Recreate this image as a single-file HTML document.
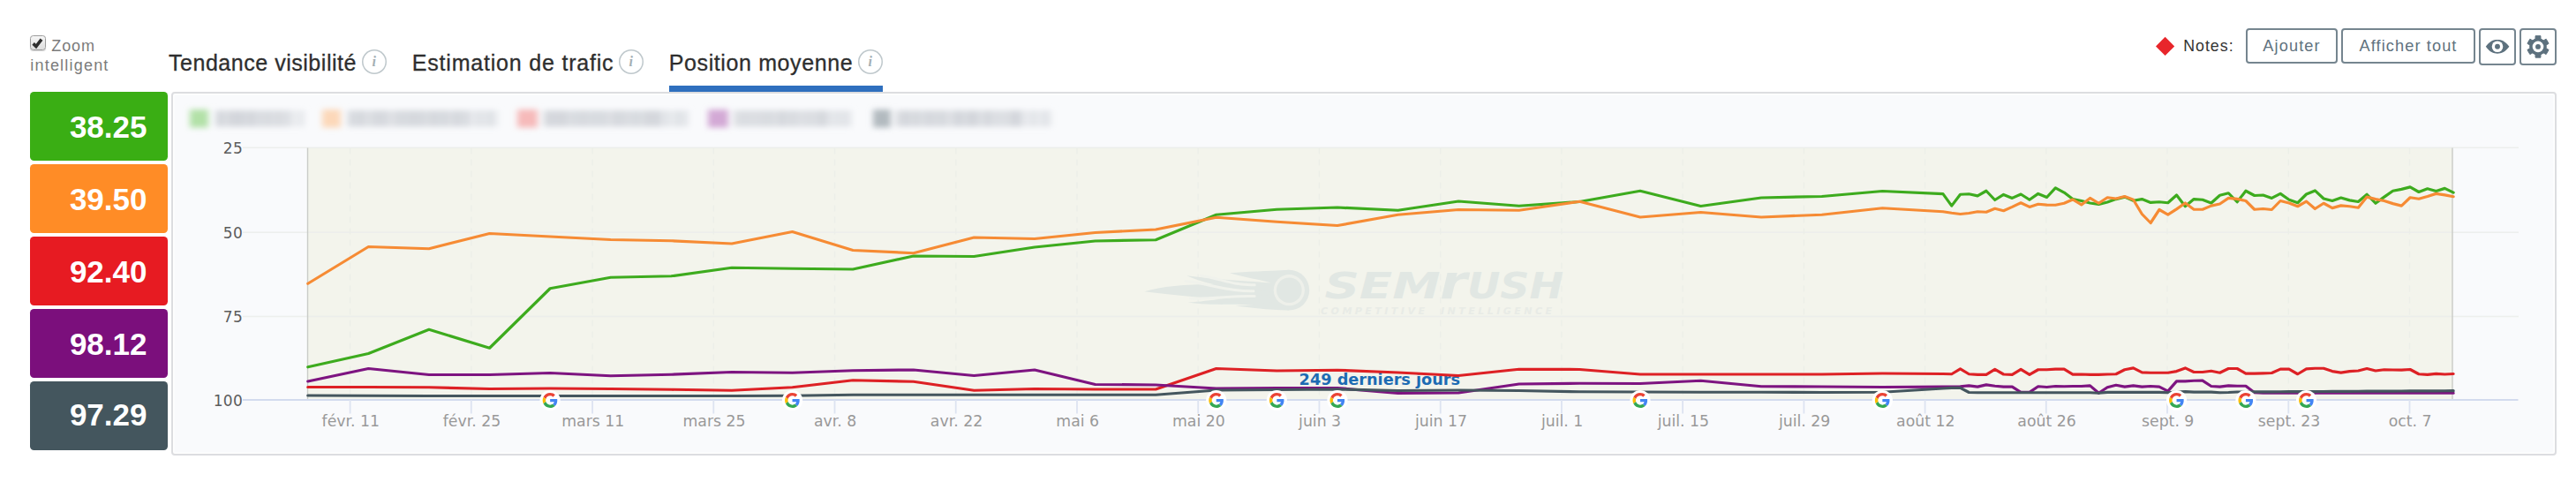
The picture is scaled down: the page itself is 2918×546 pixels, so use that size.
<!DOCTYPE html>
<html lang="fr"><head><meta charset="utf-8"><title>Position moyenne</title>
<style>
html,body{margin:0;padding:0;background:#fff;}
body{width:2918px;height:546px;position:relative;overflow:hidden;font-family:"Liberation Sans",sans-serif;color:#333;}
.abs{position:absolute;}
.zoom{left:34.3px;top:40.6px;width:150px;font-size:18px;line-height:22.4px;color:#7b7b7b;letter-spacing:1.2px;}
.cb{position:absolute;left:34px;top:40px;width:15.5px;height:15px;border:1px solid #9c9c9c;border-radius:3.5px;background:linear-gradient(#f6f6f6,#dedede);box-shadow:0 1px 1px rgba(0,0,0,.18);}
.tab{position:absolute;top:54.6px;-webkit-text-stroke:0.3px #2e2e2e;height:32px;line-height:32.6px;font-size:25px;color:#2e2e2e;white-space:nowrap;}
.info{position:absolute;top:56px;width:28px;height:28px;box-shadow:inset 0 0 0 1.5px #bfc8cc;border-radius:50%;background:#fff;text-align:center;font-family:"Liberation Serif",serif;font-style:italic;font-weight:bold;font-size:16px;line-height:28.5px;color:#a4afb4;}
.uline{position:absolute;left:758px;top:96.5px;width:242px;height:7px;background:#2f6fbe;}
.box{position:absolute;left:34px;width:156px;height:77.5px;border-radius:4.5px;color:#fff;font-weight:bold;font-size:35px;line-height:79.6px;text-align:right;padding-right:23.5px;box-sizing:border-box;}
.panel{position:absolute;left:194px;top:104px;width:2702px;height:412px;box-sizing:border-box;border:2px solid #dcdde0;border-radius:4px;background:#f9fafc;box-shadow:inset 0 0 0 1.5px rgba(255,255,255,.75);}
.btn{position:absolute;top:32px;height:39.5px;box-sizing:border-box;border:2px solid #75858f;border-radius:4px;background:#fff;color:#5f727e;font-size:18.2px;letter-spacing:1.1px;line-height:37.6px;text-align:center;white-space:nowrap;}
.ibtn{height:41.5px;}
.notes{position:absolute;left:2473.2px;top:36.7px;font-size:17.8px;letter-spacing:1px;line-height:30px;color:#333;}
.diamond{position:absolute;left:2445.4px;top:45.4px;width:15.2px;height:15.2px;background:#e8262b;transform:rotate(45deg);}
svg text{white-space:pre;}
</style></head><body>

<div class="cb"><svg width="15" height="15" viewBox="0 0 15 15" style="position:absolute;left:0;top:0"><path d="M2.6 8.4 L5.9 11.5 L12 3.7" fill="none" stroke="#2e2e2e" stroke-width="3.6" stroke-linecap="butt" stroke-linejoin="miter"/></svg></div>
<div class="abs zoom"><span style="padding-left:24px;letter-spacing:0.9px">Zoom</span><br>intelligent</div>
<div class="tab" style="left:191px;letter-spacing:0.53px">Tendance visibilité</div><div class="info" style="left:409.8px">i</div>
<div class="tab" style="left:466.8px;letter-spacing:0.8px">Estimation de trafic</div><div class="info" style="left:700.8px">i</div>
<div class="tab" style="left:757.7px;letter-spacing:0.62px">Position moyenne</div><div class="info" style="left:971.8px">i</div>
<div class="uline"></div>
<div class="diamond"></div><div class="notes">Notes:</div>
<div class="btn" style="left:2544px;width:104px">Ajouter</div>
<div class="btn" style="left:2652px;width:152px">Afficher tout</div>
<div class="btn ibtn" style="left:2808px;width:42px"><svg width="38" height="37.5" viewBox="0 0 38 37.5" style="position:absolute;left:0;top:0">
<path d="M5.8 18.8 C10 12.6 14.5 10.9 19 10.9 C23.5 10.9 28 12.6 32.4 18.8 C28 25 23.5 26.7 19 26.7 C14.5 26.7 10 25 5.8 18.8 Z" fill="#5d717e"/>
<circle cx="19" cy="18.8" r="6.3" fill="#fff"/><circle cx="19" cy="18.8" r="2.95" fill="#5d717e"/></svg></div>
<div class="btn ibtn" style="left:2854px;width:42px"><svg width="38" height="37.5" viewBox="0 0 38 37.5" style="position:absolute;left:0;top:0">
<path d="M16.02 10.20 L16.07 6.65 L21.93 6.65 L21.98 10.20 L25.05 11.97 L28.15 10.23 L31.08 15.31 L28.03 17.13 L28.03 20.67 L31.08 22.49 L28.15 27.57 L25.05 25.83 L21.98 27.60 L21.93 31.15 L16.07 31.15 L16.02 27.60 L12.95 25.83 L9.85 27.57 L6.92 22.49 L9.97 20.67 L9.97 17.13 L6.92 15.31 L9.85 10.23 L12.95 11.97Z" fill="#5d717e" stroke="#5d717e" stroke-width="1" stroke-linejoin="round"/><circle cx="19" cy="18.9" r="9.6" fill="#5d717e"/>
<circle cx="19" cy="18.9" r="6.3" fill="#fff"/><circle cx="19" cy="18.9" r="2.95" fill="#5d717e"/></svg></div>
<div class="box" style="top:104px;background:#3aae14">38.25</div>
<div class="box" style="top:186px;background:#ff8c26">39.50</div>
<div class="box" style="top:268px;background:#e71b22">92.40</div>
<div class="box" style="top:350px;background:#7b0f7c">98.12</div>
<div class="box" style="top:432px;background:#44565e;line-height:75.4px">97.29</div>
<div class="panel"></div>
<svg class="abs" style="left:0;top:0" width="2918" height="546" viewBox="0 0 2918 546">
<defs><filter id="bl" x="-10%" y="-50%" width="120%" height="200%"><feGaussianBlur stdDeviation="3.6 3"/></filter></defs>
<g filter="url(#bl)">
<rect x="215" y="124" width="21" height="20.5" fill="#b2e1a7"/>
<rect x="244" y="125" width="4" height="18.5" fill="#d8dbe0"/>
<rect x="248" y="125" width="5" height="18.5" fill="#d3d6db"/>
<rect x="253" y="125" width="2" height="18.5" fill="#dbdee2"/>
<rect x="255" y="125" width="2" height="18.5" fill="#dee0e4"/>
<rect x="257" y="125" width="2" height="18.5" fill="#dbdee2"/>
<rect x="259" y="125" width="3" height="18.5" fill="#d3d6db"/>
<rect x="262" y="125" width="2" height="18.5" fill="#d5d8dd"/>
<rect x="264" y="125" width="5" height="18.5" fill="#d3d6db"/>
<rect x="269" y="125" width="3" height="18.5" fill="#d3d6db"/>
<rect x="272" y="125" width="5" height="18.5" fill="#d3d6db"/>
<rect x="277" y="125" width="2" height="18.5" fill="#d8dbe0"/>
<rect x="279" y="125" width="2" height="18.5" fill="#dbdee2"/>
<rect x="281" y="125" width="5" height="18.5" fill="#d3d6db"/>
<rect x="286" y="125" width="3" height="18.5" fill="#d3d6db"/>
<rect x="289" y="125" width="3" height="18.5" fill="#dee0e4"/>
<rect x="292" y="125" width="5" height="18.5" fill="#d8dbe0"/>
<rect x="297" y="125" width="2" height="18.5" fill="#dbdee2"/>
<rect x="299" y="125" width="4" height="18.5" fill="#dbdee2"/>
<rect x="303" y="125" width="3" height="18.5" fill="#d3d6db"/>
<rect x="306" y="125" width="3" height="18.5" fill="#dee0e4"/>
<rect x="309" y="125" width="2" height="18.5" fill="#dbdee2"/>
<rect x="311" y="125" width="2" height="18.5" fill="#dbdee2"/>
<rect x="313" y="125" width="2" height="18.5" fill="#dbdee2"/>
<rect x="315" y="125" width="3" height="18.5" fill="#d5d8dd"/>
<rect x="318" y="125" width="5" height="18.5" fill="#dee0e4"/>
<rect x="323" y="125" width="5" height="18.5" fill="#dbdee2"/>
<rect x="328" y="125" width="5" height="18.5" fill="#e6e8ec"/>
<rect x="333" y="125" width="3" height="18.5" fill="#eceef1"/>
<rect x="336" y="125" width="3" height="18.5" fill="#eceef1"/>
<rect x="339" y="125" width="4" height="18.5" fill="#e6e8ec"/>
<rect x="343" y="125" width="2" height="18.5" fill="#e6e8ec"/>
<rect x="365" y="124" width="21" height="20.5" fill="#fcd8b9"/>
<rect x="394" y="125" width="2" height="18.5" fill="#d3d6db"/>
<rect x="396" y="125" width="5" height="18.5" fill="#d8dbe0"/>
<rect x="401" y="125" width="4" height="18.5" fill="#d8dbe0"/>
<rect x="405" y="125" width="5" height="18.5" fill="#d5d8dd"/>
<rect x="410" y="125" width="2" height="18.5" fill="#d3d6db"/>
<rect x="412" y="125" width="4" height="18.5" fill="#dee0e4"/>
<rect x="416" y="125" width="4" height="18.5" fill="#dbdee2"/>
<rect x="420" y="125" width="5" height="18.5" fill="#dbdee2"/>
<rect x="425" y="125" width="5" height="18.5" fill="#d3d6db"/>
<rect x="430" y="125" width="2" height="18.5" fill="#dee0e4"/>
<rect x="432" y="125" width="5" height="18.5" fill="#d3d6db"/>
<rect x="437" y="125" width="2" height="18.5" fill="#dee0e4"/>
<rect x="439" y="125" width="5" height="18.5" fill="#dee0e4"/>
<rect x="444" y="125" width="5" height="18.5" fill="#dee0e4"/>
<rect x="449" y="125" width="2" height="18.5" fill="#d5d8dd"/>
<rect x="451" y="125" width="4" height="18.5" fill="#d8dbe0"/>
<rect x="455" y="125" width="2" height="18.5" fill="#d5d8dd"/>
<rect x="457" y="125" width="2" height="18.5" fill="#d8dbe0"/>
<rect x="459" y="125" width="4" height="18.5" fill="#d8dbe0"/>
<rect x="463" y="125" width="3" height="18.5" fill="#d5d8dd"/>
<rect x="466" y="125" width="5" height="18.5" fill="#d5d8dd"/>
<rect x="471" y="125" width="2" height="18.5" fill="#d8dbe0"/>
<rect x="473" y="125" width="5" height="18.5" fill="#d5d8dd"/>
<rect x="478" y="125" width="4" height="18.5" fill="#d8dbe0"/>
<rect x="482" y="125" width="5" height="18.5" fill="#dbdee2"/>
<rect x="487" y="125" width="4" height="18.5" fill="#d5d8dd"/>
<rect x="491" y="125" width="4" height="18.5" fill="#d5d8dd"/>
<rect x="495" y="125" width="3" height="18.5" fill="#d8dbe0"/>
<rect x="498" y="125" width="2" height="18.5" fill="#d8dbe0"/>
<rect x="500" y="125" width="3" height="18.5" fill="#d8dbe0"/>
<rect x="503" y="125" width="3" height="18.5" fill="#d3d6db"/>
<rect x="506" y="125" width="5" height="18.5" fill="#dbdee2"/>
<rect x="511" y="125" width="3" height="18.5" fill="#dee0e4"/>
<rect x="514" y="125" width="4" height="18.5" fill="#d3d6db"/>
<rect x="518" y="125" width="3" height="18.5" fill="#d5d8dd"/>
<rect x="521" y="125" width="4" height="18.5" fill="#dbdee2"/>
<rect x="525" y="125" width="4" height="18.5" fill="#d8dbe0"/>
<rect x="529" y="125" width="2" height="18.5" fill="#d5d8dd"/>
<rect x="531" y="125" width="5" height="18.5" fill="#e6e8ec"/>
<rect x="536" y="125" width="5" height="18.5" fill="#e6e8ec"/>
<rect x="541" y="125" width="5" height="18.5" fill="#dfe2e6"/>
<rect x="546" y="125" width="2" height="18.5" fill="#e6e8ec"/>
<rect x="548" y="125" width="3" height="18.5" fill="#e6e8ec"/>
<rect x="551" y="125" width="2" height="18.5" fill="#dfe2e6"/>
<rect x="553" y="125" width="3" height="18.5" fill="#dfe2e6"/>
<rect x="556" y="125" width="4" height="18.5" fill="#dfe2e6"/>
<rect x="560" y="125" width="2" height="18.5" fill="#eceef1"/>
<rect x="562" y="125" width="3" height="18.5" fill="#eceef1"/>
<rect x="586" y="124" width="23" height="20.5" fill="#f6baba"/>
<rect x="615" y="125" width="4" height="18.5" fill="#dee0e4"/>
<rect x="619" y="125" width="4" height="18.5" fill="#d5d8dd"/>
<rect x="623" y="125" width="2" height="18.5" fill="#d3d6db"/>
<rect x="625" y="125" width="5" height="18.5" fill="#d5d8dd"/>
<rect x="630" y="125" width="5" height="18.5" fill="#d5d8dd"/>
<rect x="635" y="125" width="4" height="18.5" fill="#d3d6db"/>
<rect x="639" y="125" width="3" height="18.5" fill="#d3d6db"/>
<rect x="642" y="125" width="4" height="18.5" fill="#dee0e4"/>
<rect x="646" y="125" width="5" height="18.5" fill="#d8dbe0"/>
<rect x="651" y="125" width="2" height="18.5" fill="#d8dbe0"/>
<rect x="653" y="125" width="4" height="18.5" fill="#d8dbe0"/>
<rect x="657" y="125" width="2" height="18.5" fill="#dbdee2"/>
<rect x="659" y="125" width="4" height="18.5" fill="#d3d6db"/>
<rect x="663" y="125" width="4" height="18.5" fill="#dbdee2"/>
<rect x="667" y="125" width="4" height="18.5" fill="#d8dbe0"/>
<rect x="671" y="125" width="4" height="18.5" fill="#d8dbe0"/>
<rect x="675" y="125" width="4" height="18.5" fill="#d8dbe0"/>
<rect x="679" y="125" width="3" height="18.5" fill="#d8dbe0"/>
<rect x="682" y="125" width="5" height="18.5" fill="#d8dbe0"/>
<rect x="687" y="125" width="3" height="18.5" fill="#dbdee2"/>
<rect x="690" y="125" width="5" height="18.5" fill="#dee0e4"/>
<rect x="695" y="125" width="2" height="18.5" fill="#d3d6db"/>
<rect x="697" y="125" width="4" height="18.5" fill="#d5d8dd"/>
<rect x="701" y="125" width="4" height="18.5" fill="#d8dbe0"/>
<rect x="705" y="125" width="4" height="18.5" fill="#d5d8dd"/>
<rect x="709" y="125" width="4" height="18.5" fill="#dee0e4"/>
<rect x="713" y="125" width="2" height="18.5" fill="#d8dbe0"/>
<rect x="715" y="125" width="2" height="18.5" fill="#d8dbe0"/>
<rect x="717" y="125" width="5" height="18.5" fill="#d8dbe0"/>
<rect x="722" y="125" width="4" height="18.5" fill="#d8dbe0"/>
<rect x="726" y="125" width="5" height="18.5" fill="#dbdee2"/>
<rect x="731" y="125" width="2" height="18.5" fill="#d5d8dd"/>
<rect x="733" y="125" width="4" height="18.5" fill="#d3d6db"/>
<rect x="737" y="125" width="2" height="18.5" fill="#d5d8dd"/>
<rect x="739" y="125" width="3" height="18.5" fill="#d5d8dd"/>
<rect x="742" y="125" width="3" height="18.5" fill="#d5d8dd"/>
<rect x="745" y="125" width="4" height="18.5" fill="#d3d6db"/>
<rect x="749" y="125" width="5" height="18.5" fill="#e6e8ec"/>
<rect x="754" y="125" width="2" height="18.5" fill="#dfe2e6"/>
<rect x="756" y="125" width="3" height="18.5" fill="#dfe2e6"/>
<rect x="759" y="125" width="5" height="18.5" fill="#eceef1"/>
<rect x="764" y="125" width="5" height="18.5" fill="#dfe2e6"/>
<rect x="769" y="125" width="3" height="18.5" fill="#dfe2e6"/>
<rect x="772" y="125" width="2" height="18.5" fill="#eceef1"/>
<rect x="774" y="125" width="3" height="18.5" fill="#dfe2e6"/>
<rect x="777" y="125" width="3" height="18.5" fill="#e6e8ec"/>
<rect x="802" y="124" width="23" height="20.5" fill="#d3a9d5"/>
<rect x="831" y="125" width="3" height="18.5" fill="#dee0e4"/>
<rect x="834" y="125" width="3" height="18.5" fill="#dbdee2"/>
<rect x="837" y="125" width="4" height="18.5" fill="#dee0e4"/>
<rect x="841" y="125" width="5" height="18.5" fill="#d8dbe0"/>
<rect x="846" y="125" width="2" height="18.5" fill="#dee0e4"/>
<rect x="848" y="125" width="5" height="18.5" fill="#dbdee2"/>
<rect x="853" y="125" width="5" height="18.5" fill="#dbdee2"/>
<rect x="858" y="125" width="3" height="18.5" fill="#dbdee2"/>
<rect x="861" y="125" width="3" height="18.5" fill="#dbdee2"/>
<rect x="864" y="125" width="2" height="18.5" fill="#d5d8dd"/>
<rect x="866" y="125" width="3" height="18.5" fill="#dbdee2"/>
<rect x="869" y="125" width="2" height="18.5" fill="#d8dbe0"/>
<rect x="871" y="125" width="3" height="18.5" fill="#d8dbe0"/>
<rect x="874" y="125" width="5" height="18.5" fill="#dbdee2"/>
<rect x="879" y="125" width="2" height="18.5" fill="#dbdee2"/>
<rect x="881" y="125" width="2" height="18.5" fill="#dee0e4"/>
<rect x="883" y="125" width="5" height="18.5" fill="#d3d6db"/>
<rect x="888" y="125" width="2" height="18.5" fill="#d8dbe0"/>
<rect x="890" y="125" width="3" height="18.5" fill="#dee0e4"/>
<rect x="893" y="125" width="2" height="18.5" fill="#d3d6db"/>
<rect x="895" y="125" width="5" height="18.5" fill="#dbdee2"/>
<rect x="900" y="125" width="2" height="18.5" fill="#d3d6db"/>
<rect x="902" y="125" width="5" height="18.5" fill="#dee0e4"/>
<rect x="907" y="125" width="3" height="18.5" fill="#dee0e4"/>
<rect x="910" y="125" width="5" height="18.5" fill="#dbdee2"/>
<rect x="915" y="125" width="5" height="18.5" fill="#dbdee2"/>
<rect x="920" y="125" width="3" height="18.5" fill="#dbdee2"/>
<rect x="923" y="125" width="4" height="18.5" fill="#dbdee2"/>
<rect x="927" y="125" width="3" height="18.5" fill="#d5d8dd"/>
<rect x="930" y="125" width="3" height="18.5" fill="#d5d8dd"/>
<rect x="933" y="125" width="2" height="18.5" fill="#d5d8dd"/>
<rect x="935" y="125" width="5" height="18.5" fill="#dee0e4"/>
<rect x="940" y="125" width="2" height="18.5" fill="#e6e8ec"/>
<rect x="942" y="125" width="2" height="18.5" fill="#eceef1"/>
<rect x="944" y="125" width="4" height="18.5" fill="#dfe2e6"/>
<rect x="948" y="125" width="4" height="18.5" fill="#e6e8ec"/>
<rect x="952" y="125" width="3" height="18.5" fill="#dfe2e6"/>
<rect x="955" y="125" width="2" height="18.5" fill="#e6e8ec"/>
<rect x="957" y="125" width="3" height="18.5" fill="#dfe2e6"/>
<rect x="960" y="125" width="5" height="18.5" fill="#e6e8ec"/>
<rect x="989" y="124" width="20" height="20.5" fill="#b2babf"/>
<rect x="1015" y="125" width="4" height="18.5" fill="#d5d8dd"/>
<rect x="1019" y="125" width="3" height="18.5" fill="#dee0e4"/>
<rect x="1022" y="125" width="4" height="18.5" fill="#d3d6db"/>
<rect x="1026" y="125" width="4" height="18.5" fill="#d3d6db"/>
<rect x="1030" y="125" width="4" height="18.5" fill="#dbdee2"/>
<rect x="1034" y="125" width="5" height="18.5" fill="#d5d8dd"/>
<rect x="1039" y="125" width="2" height="18.5" fill="#d5d8dd"/>
<rect x="1041" y="125" width="4" height="18.5" fill="#dbdee2"/>
<rect x="1045" y="125" width="4" height="18.5" fill="#dbdee2"/>
<rect x="1049" y="125" width="2" height="18.5" fill="#d3d6db"/>
<rect x="1051" y="125" width="3" height="18.5" fill="#d3d6db"/>
<rect x="1054" y="125" width="2" height="18.5" fill="#dee0e4"/>
<rect x="1056" y="125" width="4" height="18.5" fill="#d3d6db"/>
<rect x="1060" y="125" width="3" height="18.5" fill="#dee0e4"/>
<rect x="1063" y="125" width="3" height="18.5" fill="#d5d8dd"/>
<rect x="1066" y="125" width="4" height="18.5" fill="#d5d8dd"/>
<rect x="1070" y="125" width="3" height="18.5" fill="#dbdee2"/>
<rect x="1073" y="125" width="5" height="18.5" fill="#dee0e4"/>
<rect x="1078" y="125" width="2" height="18.5" fill="#dee0e4"/>
<rect x="1080" y="125" width="2" height="18.5" fill="#d8dbe0"/>
<rect x="1082" y="125" width="5" height="18.5" fill="#d3d6db"/>
<rect x="1087" y="125" width="4" height="18.5" fill="#d3d6db"/>
<rect x="1091" y="125" width="2" height="18.5" fill="#dee0e4"/>
<rect x="1093" y="125" width="2" height="18.5" fill="#dbdee2"/>
<rect x="1095" y="125" width="3" height="18.5" fill="#d3d6db"/>
<rect x="1098" y="125" width="4" height="18.5" fill="#d3d6db"/>
<rect x="1102" y="125" width="5" height="18.5" fill="#d3d6db"/>
<rect x="1107" y="125" width="4" height="18.5" fill="#dbdee2"/>
<rect x="1111" y="125" width="5" height="18.5" fill="#dee0e4"/>
<rect x="1116" y="125" width="3" height="18.5" fill="#d3d6db"/>
<rect x="1119" y="125" width="3" height="18.5" fill="#d3d6db"/>
<rect x="1122" y="125" width="3" height="18.5" fill="#dee0e4"/>
<rect x="1125" y="125" width="2" height="18.5" fill="#d8dbe0"/>
<rect x="1127" y="125" width="3" height="18.5" fill="#dee0e4"/>
<rect x="1130" y="125" width="4" height="18.5" fill="#dbdee2"/>
<rect x="1134" y="125" width="3" height="18.5" fill="#dee0e4"/>
<rect x="1137" y="125" width="5" height="18.5" fill="#dbdee2"/>
<rect x="1142" y="125" width="3" height="18.5" fill="#dee0e4"/>
<rect x="1145" y="125" width="4" height="18.5" fill="#d3d6db"/>
<rect x="1149" y="125" width="4" height="18.5" fill="#d3d6db"/>
<rect x="1153" y="125" width="2" height="18.5" fill="#d3d6db"/>
<rect x="1155" y="125" width="3" height="18.5" fill="#dbdee2"/>
<rect x="1158" y="125" width="5" height="18.5" fill="#e6e8ec"/>
<rect x="1163" y="125" width="2" height="18.5" fill="#eceef1"/>
<rect x="1165" y="125" width="5" height="18.5" fill="#e6e8ec"/>
<rect x="1170" y="125" width="4" height="18.5" fill="#dfe2e6"/>
<rect x="1174" y="125" width="4" height="18.5" fill="#eceef1"/>
<rect x="1178" y="125" width="3" height="18.5" fill="#e6e8ec"/>
<rect x="1181" y="125" width="2" height="18.5" fill="#dfe2e6"/>
<rect x="1183" y="125" width="2" height="18.5" fill="#e6e8ec"/>
<rect x="1185" y="125" width="3" height="18.5" fill="#dfe2e6"/>
<rect x="1188" y="125" width="4" height="18.5" fill="#eceef1"/>
</g>
<rect x="348.5" y="167.5" width="2429.5" height="285.5" fill="#f3f4ec"/>
<rect x="275" y="166.55" width="2578" height="1.5" fill="#ebedeb" opacity="0.9"/>
<rect x="275" y="262.45" width="2578" height="1.5" fill="#ebedeb" opacity="0.9"/>
<rect x="275" y="357.75" width="2578" height="1.5" fill="#ebedeb" opacity="0.9"/>
<line x1="396.6" y1="167.5" x2="396.6" y2="453" stroke="#eceee8" stroke-width="1.3" stroke-dasharray="7 6"/>
<line x1="533.8" y1="167.5" x2="533.8" y2="453" stroke="#eceee8" stroke-width="1.3" stroke-dasharray="7 6"/>
<line x1="671.1" y1="167.5" x2="671.1" y2="453" stroke="#eceee8" stroke-width="1.3" stroke-dasharray="7 6"/>
<line x1="808.3" y1="167.5" x2="808.3" y2="453" stroke="#eceee8" stroke-width="1.3" stroke-dasharray="7 6"/>
<line x1="945.5" y1="167.5" x2="945.5" y2="453" stroke="#eceee8" stroke-width="1.3" stroke-dasharray="7 6"/>
<line x1="1082.8" y1="167.5" x2="1082.8" y2="453" stroke="#eceee8" stroke-width="1.3" stroke-dasharray="7 6"/>
<line x1="1220.0" y1="167.5" x2="1220.0" y2="453" stroke="#eceee8" stroke-width="1.3" stroke-dasharray="7 6"/>
<line x1="1357.2" y1="167.5" x2="1357.2" y2="453" stroke="#eceee8" stroke-width="1.3" stroke-dasharray="7 6"/>
<line x1="1494.4" y1="167.5" x2="1494.4" y2="453" stroke="#eceee8" stroke-width="1.3" stroke-dasharray="7 6"/>
<line x1="1631.7" y1="167.5" x2="1631.7" y2="453" stroke="#eceee8" stroke-width="1.3" stroke-dasharray="7 6"/>
<line x1="1768.9" y1="167.5" x2="1768.9" y2="453" stroke="#eceee8" stroke-width="1.3" stroke-dasharray="7 6"/>
<line x1="1906.1" y1="167.5" x2="1906.1" y2="453" stroke="#eceee8" stroke-width="1.3" stroke-dasharray="7 6"/>
<line x1="2043.4" y1="167.5" x2="2043.4" y2="453" stroke="#eceee8" stroke-width="1.3" stroke-dasharray="7 6"/>
<line x1="2180.6" y1="167.5" x2="2180.6" y2="453" stroke="#eceee8" stroke-width="1.3" stroke-dasharray="7 6"/>
<line x1="2317.8" y1="167.5" x2="2317.8" y2="453" stroke="#eceee8" stroke-width="1.3" stroke-dasharray="7 6"/>
<line x1="2455.0" y1="167.5" x2="2455.0" y2="453" stroke="#eceee8" stroke-width="1.3" stroke-dasharray="7 6"/>
<line x1="2592.3" y1="167.5" x2="2592.3" y2="453" stroke="#eceee8" stroke-width="1.3" stroke-dasharray="7 6"/>
<line x1="2729.5" y1="167.5" x2="2729.5" y2="453" stroke="#eceee8" stroke-width="1.3" stroke-dasharray="7 6"/>
<rect x="347.8" y="167.5" width="1.4" height="285.5" fill="#c9cbc7"/><rect x="2777.3" y="167.5" width="1.4" height="285.5" fill="#c9cbc7"/>
<g fill="#e1e7e3">
<path d="M1296.5 330.3 C1325.5 321.3 1372.7 320.6 1440.1 324.0 L1440.1 339.5 C1379.4 340.9 1332.2 334.1 1296.5 330.3 Z"/>
<path d="M1344.3 312.3 C1365.9 315.2 1392.9 317.3 1441.5 320.6 L1441.5 330.1 C1399.6 328.7 1365.9 322.0 1344.3 312.3 Z"/>
<path d="M1392.9 309.2 C1413.1 307.8 1433.4 307.1 1460.3 305.8 L1446.9 322.0 C1426.6 316.6 1409.1 313.9 1392.9 309.2 Z"/>
<path d="M1345.7 342.5 C1372.7 341.5 1392.9 335.5 1440.1 334.1 L1444.2 346.3 C1399.6 343.6 1372.7 346.9 1345.7 342.5 Z"/>
<path d="M1399.6 346.5 C1419.9 345.2 1433.4 343.6 1446.9 340.9 L1460.3 351.6 C1433.4 351.0 1417.2 348.3 1399.6 346.5 Z"/>
<path d="M1343.0 318.6 C1365.9 320.0 1387.5 330.3 1419.9 329.8" fill="none" stroke="#f0f2ec" stroke-width="3" stroke-linecap="round"/>
<path d="M1360.5 312.3 C1382.1 315.2 1395.6 323.6 1421.2 322.7" fill="none" stroke="#f0f2ec" stroke-width="3" stroke-linecap="round"/>
<path d="M1348.4 337.9 C1372.7 339.5 1395.6 334.4 1421.2 335.5" fill="none" stroke="#f0f2ec" stroke-width="3" stroke-linecap="round"/>
<circle cx="1460.3" cy="328.7" r="22.9"/>
<circle cx="1460.3" cy="328.7" r="17.6" fill="#eef0ea"/><circle cx="1460.3" cy="328.7" r="14.3"/>
<text x="1500.5" y="337.6" textLength="131" lengthAdjust="spacingAndGlyphs" style="font-family:'DejaVu Sans','Liberation Sans',sans-serif;font-weight:bold;font-style:oblique;font-size:40px">SEM</text>
<text x="1631" y="337.6" textLength="31" lengthAdjust="spacingAndGlyphs" style="font-family:'DejaVu Sans','Liberation Sans',sans-serif;font-weight:bold;font-style:oblique;font-size:53px">r</text>
<text x="1662" y="337.6" textLength="109" lengthAdjust="spacingAndGlyphs" style="font-family:'DejaVu Sans','Liberation Sans',sans-serif;font-weight:bold;font-style:oblique;font-size:40px">USH</text>
<text x="1496" y="356" textLength="262" lengthAdjust="spacing" fill="#e8ebe6" style="font-family:'DejaVu Sans','Liberation Sans',sans-serif;font-style:oblique;font-weight:bold;font-size:11px">COMPETITIVE  INTELLIGENCE</text>
</g>
<rect x="275" y="452" width="2577.5" height="2" fill="#d3dbee"/>
<rect x="395.7" y="453" width="1.8" height="15.5" fill="#dde3f1"/>
<rect x="532.9" y="453" width="1.8" height="15.5" fill="#dde3f1"/>
<rect x="670.2" y="453" width="1.8" height="15.5" fill="#dde3f1"/>
<rect x="807.4" y="453" width="1.8" height="15.5" fill="#dde3f1"/>
<rect x="944.6" y="453" width="1.8" height="15.5" fill="#dde3f1"/>
<rect x="1081.8" y="453" width="1.8" height="15.5" fill="#dde3f1"/>
<rect x="1219.1" y="453" width="1.8" height="15.5" fill="#dde3f1"/>
<rect x="1356.3" y="453" width="1.8" height="15.5" fill="#dde3f1"/>
<rect x="1493.5" y="453" width="1.8" height="15.5" fill="#dde3f1"/>
<rect x="1630.8" y="453" width="1.8" height="15.5" fill="#dde3f1"/>
<rect x="1768.0" y="453" width="1.8" height="15.5" fill="#dde3f1"/>
<rect x="1905.2" y="453" width="1.8" height="15.5" fill="#dde3f1"/>
<rect x="2042.5" y="453" width="1.8" height="15.5" fill="#dde3f1"/>
<rect x="2179.7" y="453" width="1.8" height="15.5" fill="#dde3f1"/>
<rect x="2316.9" y="453" width="1.8" height="15.5" fill="#dde3f1"/>
<rect x="2454.1" y="453" width="1.8" height="15.5" fill="#dde3f1"/>
<rect x="2591.4" y="453" width="1.8" height="15.5" fill="#dde3f1"/>
<rect x="2728.6" y="453" width="1.8" height="15.5" fill="#dde3f1"/>
<text x="1471.6" y="435.6" textLength="182.5" lengthAdjust="spacingAndGlyphs" fill="#1d6bb3" style="font-family:'DejaVu Sans','Liberation Sans',sans-serif;font-weight:bold;font-size:18px">249 derniers jours</text>
<path d="M348.75 415.75 L417.35 400.50 L485.95 373.25 L554.55 394.25 L623.15 326.75 L691.75 314.25 L760.35 312.75 L828.95 303.25 L897.55 304.25 L966.15 305.00 L1034.75 290.00 L1103.35 290.50 L1171.95 280.00 L1240.55 273.00 L1309.15 271.75 L1377.75 243.25 L1446.35 237.25 L1514.95 235.00 L1583.55 238.25 L1652.15 228.00 L1720.75 233.25 L1789.35 228.50 L1857.95 216.25 L1926.55 233.50 L1995.15 224.00 L2063.75 222.50 L2132.35 216.50 L2200.95 219.60 L2210.75 233.10 L2220.55 220.25 L2230.35 219.75 L2240.15 221.90 L2249.95 216.25 L2259.75 226.50 L2269.55 220.40 L2279.35 224.40 L2289.15 220.00 L2298.95 226.25 L2308.75 219.40 L2318.55 223.50 L2328.35 212.90 L2338.15 218.10 L2347.95 225.60 L2357.75 227.50 L2367.55 230.00 L2377.35 231.50 L2387.15 229.00 L2396.95 225.60 L2406.75 223.10 L2416.55 227.25 L2426.35 225.60 L2436.15 229.40 L2445.95 228.75 L2455.75 229.75 L2465.55 221.00 L2475.35 233.75 L2485.15 225.60 L2494.95 226.25 L2504.75 230.00 L2514.55 221.25 L2524.35 218.75 L2534.15 228.75 L2543.95 216.25 L2553.75 221.50 L2563.55 221.00 L2573.35 224.40 L2583.15 219.40 L2592.95 226.25 L2602.75 229.75 L2612.55 220.00 L2622.35 215.90 L2632.15 225.00 L2641.95 227.50 L2651.75 224.00 L2661.55 226.90 L2671.35 228.50 L2681.15 220.25 L2690.95 230.25 L2700.75 223.10 L2710.55 216.25 L2720.35 214.40 L2730.15 211.90 L2739.95 217.50 L2749.75 213.75 L2759.55 216.50 L2769.35 213.40 L2779.15 218.10" fill="none" stroke="#3dab1e" stroke-width="3.2" stroke-linejoin="round" stroke-linecap="round"/>
<path d="M348.75 321.25 L417.35 279.50 L485.95 281.75 L554.55 264.50 L623.15 268.00 L691.75 271.50 L760.35 272.75 L828.95 276.00 L897.55 262.50 L966.15 283.50 L1034.75 286.75 L1103.35 269.00 L1171.95 270.50 L1240.55 263.50 L1309.15 260.00 L1377.75 246.25 L1446.35 251.25 L1514.95 255.50 L1583.55 243.25 L1652.15 237.50 L1720.75 238.25 L1789.35 228.25 L1857.95 246.00 L1926.55 240.50 L1995.15 246.00 L2063.75 243.25 L2132.35 235.75 L2200.95 239.75 L2210.75 241.25 L2220.55 242.50 L2230.35 241.50 L2240.15 239.75 L2249.95 240.25 L2259.75 236.25 L2269.55 238.75 L2279.35 234.40 L2289.15 229.75 L2298.95 234.40 L2308.75 231.25 L2318.55 232.10 L2328.35 232.25 L2338.15 230.25 L2347.95 226.00 L2357.75 231.90 L2367.55 224.40 L2377.35 230.25 L2387.15 223.75 L2396.95 225.00 L2406.75 222.50 L2416.55 226.25 L2426.35 242.50 L2436.15 252.50 L2445.95 237.50 L2455.75 243.10 L2465.55 236.90 L2475.35 230.00 L2485.15 237.25 L2494.95 237.25 L2504.75 233.10 L2514.55 231.00 L2524.35 224.40 L2534.15 225.40 L2543.95 227.50 L2553.75 237.25 L2563.55 236.50 L2573.35 237.50 L2583.15 227.50 L2592.95 230.00 L2602.75 233.75 L2612.55 228.10 L2622.35 236.50 L2632.15 230.25 L2641.95 235.60 L2651.75 232.90 L2661.55 233.75 L2671.35 235.25 L2681.15 223.10 L2690.95 225.60 L2700.75 227.50 L2710.55 230.60 L2720.35 233.10 L2730.15 223.75 L2739.95 225.25 L2749.75 222.50 L2759.55 219.40 L2769.35 220.90 L2779.15 222.75" fill="none" stroke="#f68b34" stroke-width="3.2" stroke-linejoin="round" stroke-linecap="round"/>
<path d="M348.75 438.50 L417.35 438.50 L485.95 438.75 L554.55 440.50 L623.15 440.00 L691.75 440.50 L760.35 441.25 L828.95 442.25 L897.55 438.75 L966.15 430.75 L1034.75 432.25 L1103.35 442.25 L1171.95 440.50 L1240.55 441.00 L1309.15 441.00 L1377.75 417.50 L1446.35 420.00 L1514.95 419.25 L1583.55 422.00 L1652.15 425.50 L1720.75 418.25 L1789.35 418.50 L1857.95 424.00 L1926.55 424.00 L1995.15 424.00 L2063.75 424.00 L2132.35 423.00 L2200.95 423.50 L2210.75 423.75 L2220.55 417.90 L2230.35 423.75 L2240.15 424.40 L2249.95 424.40 L2259.75 418.40 L2269.55 424.00 L2279.35 424.40 L2289.15 418.40 L2298.95 424.40 L2308.75 418.75 L2318.55 418.75 L2328.35 418.10 L2338.15 418.10 L2347.95 424.10 L2357.75 424.00 L2367.55 424.40 L2377.35 424.40 L2387.15 424.00 L2396.95 423.75 L2406.75 418.75 L2416.55 416.90 L2426.35 421.90 L2436.15 422.25 L2445.95 422.25 L2455.75 422.25 L2465.55 420.60 L2475.35 416.90 L2485.15 421.50 L2494.95 421.50 L2504.75 420.25 L2514.55 422.25 L2524.35 417.50 L2534.15 417.50 L2543.95 423.10 L2553.75 423.10 L2563.55 422.90 L2573.35 422.50 L2583.15 418.10 L2592.95 418.10 L2602.75 423.75 L2612.55 417.90 L2622.35 417.25 L2632.15 417.25 L2641.95 420.60 L2651.75 422.10 L2661.55 420.60 L2671.35 420.00 L2681.15 417.50 L2690.95 420.00 L2700.75 418.75 L2710.55 419.00 L2720.35 419.10 L2730.15 418.50 L2739.95 423.75 L2749.75 424.40 L2759.55 423.40 L2769.35 424.00 L2779.15 423.50" fill="none" stroke="#dd2125" stroke-width="3.2" stroke-linejoin="round" stroke-linecap="round"/>
<path d="M348.75 432.00 L417.35 417.50 L485.95 424.50 L554.55 424.50 L623.15 422.50 L691.75 425.75 L760.35 424.25 L828.95 421.50 L897.55 422.25 L966.15 419.75 L1034.75 419.00 L1103.35 425.50 L1171.95 419.00 L1240.55 435.50 L1309.15 436.00 L1377.75 440.00 L1446.35 439.50 L1514.95 439.50 L1583.55 445.50 L1652.15 445.00 L1720.75 435.00 L1789.35 434.25 L1857.95 434.50 L1926.55 431.25 L1995.15 437.75 L2063.75 438.00 L2132.35 438.50 L2200.95 438.10 L2210.75 438.10 L2220.55 437.75 L2230.35 436.90 L2240.15 438.10 L2249.95 435.90 L2259.75 437.25 L2269.55 438.10 L2279.35 438.10 L2289.15 444.40 L2298.95 444.40 L2308.75 437.75 L2318.55 438.50 L2328.35 437.50 L2338.15 437.75 L2347.95 437.50 L2357.75 437.50 L2367.55 436.90 L2377.35 445.25 L2387.15 438.75 L2396.95 436.25 L2406.75 438.10 L2416.55 436.90 L2426.35 438.10 L2436.15 437.50 L2445.95 438.10 L2455.75 443.10 L2465.55 431.90 L2475.35 431.90 L2485.15 431.25 L2494.95 431.10 L2504.75 437.50 L2514.55 438.10 L2524.35 436.90 L2534.15 437.25 L2543.95 437.25 L2553.75 444.75 L2563.55 445.25 L2573.35 445.25 L2583.15 445.25 L2592.95 445.25 L2602.75 445.25 L2612.55 445.25 L2622.35 445.25 L2632.15 445.25 L2641.95 445.25 L2651.75 445.25 L2661.55 445.25 L2671.35 445.25 L2681.15 445.25 L2690.95 445.25 L2700.75 445.25 L2710.55 445.25 L2720.35 445.25 L2730.15 445.25 L2739.95 445.25 L2749.75 445.25 L2759.55 445.25 L2769.35 445.25 L2779.15 445.25" fill="none" stroke="#7d1480" stroke-width="3.2" stroke-linejoin="round" stroke-linecap="round"/>
<path d="M348.75 448.00 L417.35 448.25 L485.95 448.50 L554.55 448.50 L623.15 448.50 L691.75 448.50 L760.35 448.50 L828.95 448.50 L897.55 448.25 L966.15 447.25 L1034.75 447.25 L1103.35 447.25 L1171.95 447.25 L1240.55 447.25 L1309.15 447.25 L1377.75 442.00 L1446.35 441.50 L1514.95 441.00 L1583.55 442.50 L1652.15 442.00 L1720.75 442.50 L1789.35 443.75 L1857.95 444.00 L1926.55 444.25 L1995.15 444.25 L2063.75 444.50 L2132.35 444.25 L2200.95 440.00 L2210.75 439.40 L2220.55 439.40 L2230.35 444.50 L2240.15 444.75 L2249.95 444.75 L2259.75 444.75 L2269.55 444.75 L2279.35 444.75 L2289.15 444.75 L2298.95 444.75 L2308.75 444.75 L2318.55 444.75 L2328.35 444.75 L2338.15 444.75 L2347.95 444.75 L2357.75 444.75 L2367.55 444.75 L2377.35 445.25 L2387.15 444.40 L2396.95 444.40 L2406.75 444.40 L2416.55 444.40 L2426.35 444.40 L2436.15 444.40 L2445.95 444.40 L2455.75 444.75 L2465.55 444.20 L2475.35 443.60 L2485.15 444.20 L2494.95 444.20 L2504.75 444.20 L2514.55 444.75 L2524.35 444.50 L2534.15 444.00 L2543.95 444.00 L2553.75 443.90 L2563.55 443.85 L2573.35 443.80 L2583.15 443.74 L2592.95 443.69 L2602.75 443.64 L2612.55 443.59 L2622.35 443.53 L2632.15 443.48 L2641.95 443.43 L2651.75 443.38 L2661.55 443.33 L2671.35 443.27 L2681.15 443.22 L2690.95 443.17 L2700.75 443.12 L2710.55 443.07 L2720.35 443.01 L2730.15 442.96 L2739.95 442.91 L2749.75 442.86 L2759.55 442.80 L2769.35 442.75 L2779.15 442.70" fill="none" stroke="#44565e" stroke-width="3.2" stroke-linejoin="round" stroke-linecap="round"/>
<text x="275.3" y="174.0" text-anchor="end" fill="#5c5c5c" style="font-family:'DejaVu Sans','Liberation Sans',sans-serif;font-size:17px;letter-spacing:0.4px">25</text>
<text x="275.3" y="269.5" text-anchor="end" fill="#5c5c5c" style="font-family:'DejaVu Sans','Liberation Sans',sans-serif;font-size:17px;letter-spacing:0.4px">50</text>
<text x="275.3" y="364.8" text-anchor="end" fill="#5c5c5c" style="font-family:'DejaVu Sans','Liberation Sans',sans-serif;font-size:17px;letter-spacing:0.4px">75</text>
<text x="275.3" y="459.5" text-anchor="end" fill="#5c5c5c" style="font-family:'DejaVu Sans','Liberation Sans',sans-serif;font-size:17px;letter-spacing:0.4px">100</text>
<text x="397.3" y="482.8" text-anchor="middle" fill="#999" style="font-family:'DejaVu Sans','Liberation Sans',sans-serif;font-size:17.3px">févr. 11</text>
<text x="534.5" y="482.8" text-anchor="middle" fill="#999" style="font-family:'DejaVu Sans','Liberation Sans',sans-serif;font-size:17.3px">févr. 25</text>
<text x="671.8" y="482.8" text-anchor="middle" fill="#999" style="font-family:'DejaVu Sans','Liberation Sans',sans-serif;font-size:17.3px">mars 11</text>
<text x="809.0" y="482.8" text-anchor="middle" fill="#999" style="font-family:'DejaVu Sans','Liberation Sans',sans-serif;font-size:17.3px">mars 25</text>
<text x="946.2" y="482.8" text-anchor="middle" fill="#999" style="font-family:'DejaVu Sans','Liberation Sans',sans-serif;font-size:17.3px">avr. 8</text>
<text x="1083.5" y="482.8" text-anchor="middle" fill="#999" style="font-family:'DejaVu Sans','Liberation Sans',sans-serif;font-size:17.3px">avr. 22</text>
<text x="1220.7" y="482.8" text-anchor="middle" fill="#999" style="font-family:'DejaVu Sans','Liberation Sans',sans-serif;font-size:17.3px">mai 6</text>
<text x="1357.9" y="482.8" text-anchor="middle" fill="#999" style="font-family:'DejaVu Sans','Liberation Sans',sans-serif;font-size:17.3px">mai 20</text>
<text x="1495.1" y="482.8" text-anchor="middle" fill="#999" style="font-family:'DejaVu Sans','Liberation Sans',sans-serif;font-size:17.3px">juin 3</text>
<text x="1632.4" y="482.8" text-anchor="middle" fill="#999" style="font-family:'DejaVu Sans','Liberation Sans',sans-serif;font-size:17.3px">juin 17</text>
<text x="1769.6" y="482.8" text-anchor="middle" fill="#999" style="font-family:'DejaVu Sans','Liberation Sans',sans-serif;font-size:17.3px">juil. 1</text>
<text x="1906.8" y="482.8" text-anchor="middle" fill="#999" style="font-family:'DejaVu Sans','Liberation Sans',sans-serif;font-size:17.3px">juil. 15</text>
<text x="2044.1" y="482.8" text-anchor="middle" fill="#999" style="font-family:'DejaVu Sans','Liberation Sans',sans-serif;font-size:17.3px">juil. 29</text>
<text x="2181.3" y="482.8" text-anchor="middle" fill="#999" style="font-family:'DejaVu Sans','Liberation Sans',sans-serif;font-size:17.3px">août 12</text>
<text x="2318.5" y="482.8" text-anchor="middle" fill="#999" style="font-family:'DejaVu Sans','Liberation Sans',sans-serif;font-size:17.3px">août 26</text>
<text x="2455.7" y="482.8" text-anchor="middle" fill="#999" style="font-family:'DejaVu Sans','Liberation Sans',sans-serif;font-size:17.3px">sept. 9</text>
<text x="2593.0" y="482.8" text-anchor="middle" fill="#999" style="font-family:'DejaVu Sans','Liberation Sans',sans-serif;font-size:17.3px">sept. 23</text>
<text x="2730.2" y="482.8" text-anchor="middle" fill="#999" style="font-family:'DejaVu Sans','Liberation Sans',sans-serif;font-size:17.3px">oct. 7</text>
<g transform="translate(623.15 453.5)"><circle r="11.6" fill="#fff"/><g transform="scale(0.354) translate(-24 -24)"><path fill="#EA4335" d="M24 9.5c3.54 0 6.71 1.22 9.21 3.6l6.85-6.85C35.9 2.38 30.47 0 24 0 14.62 0 6.51 5.38 2.56 13.22l7.98 6.19C12.43 13.72 17.74 9.5 24 9.5z"/><path fill="#4285F4" d="M46.98 24.55c0-1.57-.15-3.09-.38-4.55H24v9.02h12.94c-.58 2.96-2.26 5.48-4.78 7.18l7.73 6c4.51-4.18 7.09-10.36 7.09-17.65z"/><path fill="#FBBC05" d="M10.53 28.59c-.48-1.45-.76-2.99-.76-4.59s.27-3.14.76-4.59l-7.98-6.19C.92 16.46 0 20.12 0 24c0 3.88.92 7.54 2.56 10.78l7.97-6.19z"/><path fill="#34A853" d="M24 48c6.48 0 11.93-2.13 15.89-5.81l-7.73-6c-2.15 1.45-4.92 2.3-8.16 2.3-6.26 0-11.57-4.22-13.47-9.91l-7.98 6.19C6.51 42.62 14.62 48 24 48z"/></g></g>
<g transform="translate(897.55 453.5)"><circle r="11.6" fill="#fff"/><g transform="scale(0.354) translate(-24 -24)"><path fill="#EA4335" d="M24 9.5c3.54 0 6.71 1.22 9.21 3.6l6.85-6.85C35.9 2.38 30.47 0 24 0 14.62 0 6.51 5.38 2.56 13.22l7.98 6.19C12.43 13.72 17.74 9.5 24 9.5z"/><path fill="#4285F4" d="M46.98 24.55c0-1.57-.15-3.09-.38-4.55H24v9.02h12.94c-.58 2.96-2.26 5.48-4.78 7.18l7.73 6c4.51-4.18 7.09-10.36 7.09-17.65z"/><path fill="#FBBC05" d="M10.53 28.59c-.48-1.45-.76-2.99-.76-4.59s.27-3.14.76-4.59l-7.98-6.19C.92 16.46 0 20.12 0 24c0 3.88.92 7.54 2.56 10.78l7.97-6.19z"/><path fill="#34A853" d="M24 48c6.48 0 11.93-2.13 15.89-5.81l-7.73-6c-2.15 1.45-4.92 2.3-8.16 2.3-6.26 0-11.57-4.22-13.47-9.91l-7.98 6.19C6.51 42.62 14.62 48 24 48z"/></g></g>
<g transform="translate(1377.75 453.5)"><circle r="11.6" fill="#fff"/><g transform="scale(0.354) translate(-24 -24)"><path fill="#EA4335" d="M24 9.5c3.54 0 6.71 1.22 9.21 3.6l6.85-6.85C35.9 2.38 30.47 0 24 0 14.62 0 6.51 5.38 2.56 13.22l7.98 6.19C12.43 13.72 17.74 9.5 24 9.5z"/><path fill="#4285F4" d="M46.98 24.55c0-1.57-.15-3.09-.38-4.55H24v9.02h12.94c-.58 2.96-2.26 5.48-4.78 7.18l7.73 6c4.51-4.18 7.09-10.36 7.09-17.65z"/><path fill="#FBBC05" d="M10.53 28.59c-.48-1.45-.76-2.99-.76-4.59s.27-3.14.76-4.59l-7.98-6.19C.92 16.46 0 20.12 0 24c0 3.88.92 7.54 2.56 10.78l7.97-6.19z"/><path fill="#34A853" d="M24 48c6.48 0 11.93-2.13 15.89-5.81l-7.73-6c-2.15 1.45-4.92 2.3-8.16 2.3-6.26 0-11.57-4.22-13.47-9.91l-7.98 6.19C6.51 42.62 14.62 48 24 48z"/></g></g>
<g transform="translate(1446.35 453.5)"><circle r="11.6" fill="#fff"/><g transform="scale(0.354) translate(-24 -24)"><path fill="#EA4335" d="M24 9.5c3.54 0 6.71 1.22 9.21 3.6l6.85-6.85C35.9 2.38 30.47 0 24 0 14.62 0 6.51 5.38 2.56 13.22l7.98 6.19C12.43 13.72 17.74 9.5 24 9.5z"/><path fill="#4285F4" d="M46.98 24.55c0-1.57-.15-3.09-.38-4.55H24v9.02h12.94c-.58 2.96-2.26 5.48-4.78 7.18l7.73 6c4.51-4.18 7.09-10.36 7.09-17.65z"/><path fill="#FBBC05" d="M10.53 28.59c-.48-1.45-.76-2.99-.76-4.59s.27-3.14.76-4.59l-7.98-6.19C.92 16.46 0 20.12 0 24c0 3.88.92 7.54 2.56 10.78l7.97-6.19z"/><path fill="#34A853" d="M24 48c6.48 0 11.93-2.13 15.89-5.81l-7.73-6c-2.15 1.45-4.92 2.3-8.16 2.3-6.26 0-11.57-4.22-13.47-9.91l-7.98 6.19C6.51 42.62 14.62 48 24 48z"/></g></g>
<g transform="translate(1514.95 453.5)"><circle r="11.6" fill="#fff"/><g transform="scale(0.354) translate(-24 -24)"><path fill="#EA4335" d="M24 9.5c3.54 0 6.71 1.22 9.21 3.6l6.85-6.85C35.9 2.38 30.47 0 24 0 14.62 0 6.51 5.38 2.56 13.22l7.98 6.19C12.43 13.72 17.74 9.5 24 9.5z"/><path fill="#4285F4" d="M46.98 24.55c0-1.57-.15-3.09-.38-4.55H24v9.02h12.94c-.58 2.96-2.26 5.48-4.78 7.18l7.73 6c4.51-4.18 7.09-10.36 7.09-17.65z"/><path fill="#FBBC05" d="M10.53 28.59c-.48-1.45-.76-2.99-.76-4.59s.27-3.14.76-4.59l-7.98-6.19C.92 16.46 0 20.12 0 24c0 3.88.92 7.54 2.56 10.78l7.97-6.19z"/><path fill="#34A853" d="M24 48c6.48 0 11.93-2.13 15.89-5.81l-7.73-6c-2.15 1.45-4.92 2.3-8.16 2.3-6.26 0-11.57-4.22-13.47-9.91l-7.98 6.19C6.51 42.62 14.62 48 24 48z"/></g></g>
<g transform="translate(1857.95 453.5)"><circle r="11.6" fill="#fff"/><g transform="scale(0.354) translate(-24 -24)"><path fill="#EA4335" d="M24 9.5c3.54 0 6.71 1.22 9.21 3.6l6.85-6.85C35.9 2.38 30.47 0 24 0 14.62 0 6.51 5.38 2.56 13.22l7.98 6.19C12.43 13.72 17.74 9.5 24 9.5z"/><path fill="#4285F4" d="M46.98 24.55c0-1.57-.15-3.09-.38-4.55H24v9.02h12.94c-.58 2.96-2.26 5.48-4.78 7.18l7.73 6c4.51-4.18 7.09-10.36 7.09-17.65z"/><path fill="#FBBC05" d="M10.53 28.59c-.48-1.45-.76-2.99-.76-4.59s.27-3.14.76-4.59l-7.98-6.19C.92 16.46 0 20.12 0 24c0 3.88.92 7.54 2.56 10.78l7.97-6.19z"/><path fill="#34A853" d="M24 48c6.48 0 11.93-2.13 15.89-5.81l-7.73-6c-2.15 1.45-4.92 2.3-8.16 2.3-6.26 0-11.57-4.22-13.47-9.91l-7.98 6.19C6.51 42.62 14.62 48 24 48z"/></g></g>
<g transform="translate(2132.35 453.5)"><circle r="11.6" fill="#fff"/><g transform="scale(0.354) translate(-24 -24)"><path fill="#EA4335" d="M24 9.5c3.54 0 6.71 1.22 9.21 3.6l6.85-6.85C35.9 2.38 30.47 0 24 0 14.62 0 6.51 5.38 2.56 13.22l7.98 6.19C12.43 13.72 17.74 9.5 24 9.5z"/><path fill="#4285F4" d="M46.98 24.55c0-1.57-.15-3.09-.38-4.55H24v9.02h12.94c-.58 2.96-2.26 5.48-4.78 7.18l7.73 6c4.51-4.18 7.09-10.36 7.09-17.65z"/><path fill="#FBBC05" d="M10.53 28.59c-.48-1.45-.76-2.99-.76-4.59s.27-3.14.76-4.59l-7.98-6.19C.92 16.46 0 20.12 0 24c0 3.88.92 7.54 2.56 10.78l7.97-6.19z"/><path fill="#34A853" d="M24 48c6.48 0 11.93-2.13 15.89-5.81l-7.73-6c-2.15 1.45-4.92 2.3-8.16 2.3-6.26 0-11.57-4.22-13.47-9.91l-7.98 6.19C6.51 42.62 14.62 48 24 48z"/></g></g>
<g transform="translate(2465.55 453.5)"><circle r="11.6" fill="#fff"/><g transform="scale(0.354) translate(-24 -24)"><path fill="#EA4335" d="M24 9.5c3.54 0 6.71 1.22 9.21 3.6l6.85-6.85C35.9 2.38 30.47 0 24 0 14.62 0 6.51 5.38 2.56 13.22l7.98 6.19C12.43 13.72 17.74 9.5 24 9.5z"/><path fill="#4285F4" d="M46.98 24.55c0-1.57-.15-3.09-.38-4.55H24v9.02h12.94c-.58 2.96-2.26 5.48-4.78 7.18l7.73 6c4.51-4.18 7.09-10.36 7.09-17.65z"/><path fill="#FBBC05" d="M10.53 28.59c-.48-1.45-.76-2.99-.76-4.59s.27-3.14.76-4.59l-7.98-6.19C.92 16.46 0 20.12 0 24c0 3.88.92 7.54 2.56 10.78l7.97-6.19z"/><path fill="#34A853" d="M24 48c6.48 0 11.93-2.13 15.89-5.81l-7.73-6c-2.15 1.45-4.92 2.3-8.16 2.3-6.26 0-11.57-4.22-13.47-9.91l-7.98 6.19C6.51 42.62 14.62 48 24 48z"/></g></g>
<g transform="translate(2543.95 453.5)"><circle r="11.6" fill="#fff"/><g transform="scale(0.354) translate(-24 -24)"><path fill="#EA4335" d="M24 9.5c3.54 0 6.71 1.22 9.21 3.6l6.85-6.85C35.9 2.38 30.47 0 24 0 14.62 0 6.51 5.38 2.56 13.22l7.98 6.19C12.43 13.72 17.74 9.5 24 9.5z"/><path fill="#4285F4" d="M46.98 24.55c0-1.57-.15-3.09-.38-4.55H24v9.02h12.94c-.58 2.96-2.26 5.48-4.78 7.18l7.73 6c4.51-4.18 7.09-10.36 7.09-17.65z"/><path fill="#FBBC05" d="M10.53 28.59c-.48-1.45-.76-2.99-.76-4.59s.27-3.14.76-4.59l-7.98-6.19C.92 16.46 0 20.12 0 24c0 3.88.92 7.54 2.56 10.78l7.97-6.19z"/><path fill="#34A853" d="M24 48c6.48 0 11.93-2.13 15.89-5.81l-7.73-6c-2.15 1.45-4.92 2.3-8.16 2.3-6.26 0-11.57-4.22-13.47-9.91l-7.98 6.19C6.51 42.62 14.62 48 24 48z"/></g></g>
<g transform="translate(2612.55 453.5)"><circle r="11.6" fill="#fff"/><g transform="scale(0.354) translate(-24 -24)"><path fill="#EA4335" d="M24 9.5c3.54 0 6.71 1.22 9.21 3.6l6.85-6.85C35.9 2.38 30.47 0 24 0 14.62 0 6.51 5.38 2.56 13.22l7.98 6.19C12.43 13.72 17.74 9.5 24 9.5z"/><path fill="#4285F4" d="M46.98 24.55c0-1.57-.15-3.09-.38-4.55H24v9.02h12.94c-.58 2.96-2.26 5.48-4.78 7.18l7.73 6c4.51-4.18 7.09-10.36 7.09-17.65z"/><path fill="#FBBC05" d="M10.53 28.59c-.48-1.45-.76-2.99-.76-4.59s.27-3.14.76-4.59l-7.98-6.19C.92 16.46 0 20.12 0 24c0 3.88.92 7.54 2.56 10.78l7.97-6.19z"/><path fill="#34A853" d="M24 48c6.48 0 11.93-2.13 15.89-5.81l-7.73-6c-2.15 1.45-4.92 2.3-8.16 2.3-6.26 0-11.57-4.22-13.47-9.91l-7.98 6.19C6.51 42.62 14.62 48 24 48z"/></g></g>
</svg>
</body></html>
